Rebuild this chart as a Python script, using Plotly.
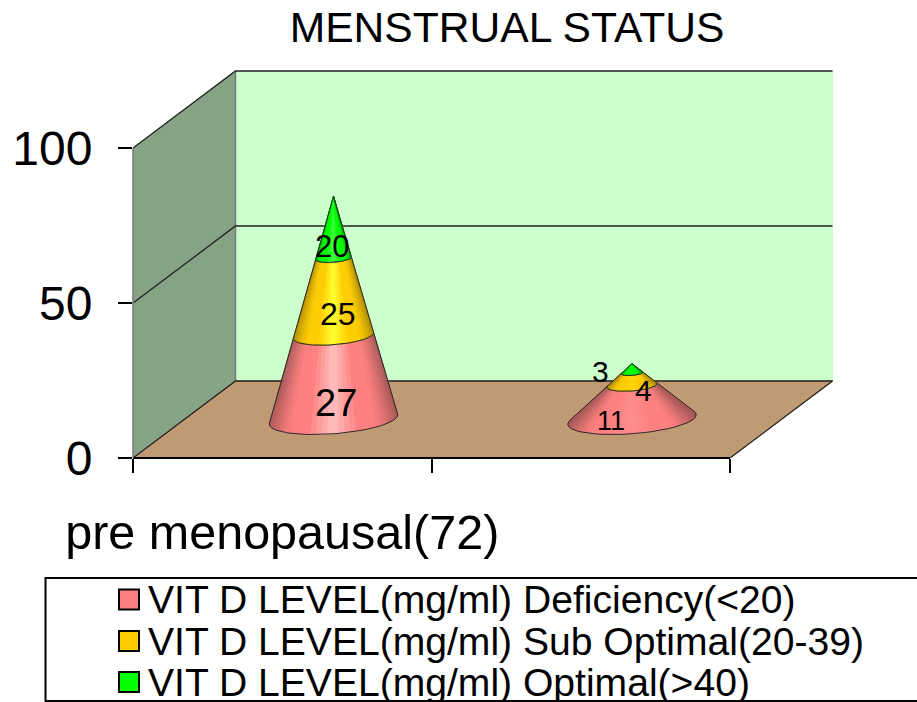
import numpy as np
import plotly.graph_objects as go

# ---- data ----
title_text = "MENSTRUAL STATUS"
categories = ["pre menopausal(72)", ""]
series_names = [
    "VIT D LEVEL(mg/ml) Deficiency(<20)",
    "VIT D LEVEL(mg/ml) Sub Optimal(20-39)",
    "VIT D LEVEL(mg/ml) Optimal(>40)",
]
deficiency = [27, 11]
sub_optimal = [25, 4]
optimal = [20, 3]
y_ticks = [0, 50, 100]

# ---- style ----
FONT = "Liberation Sans"
W, H = 917, 702
L, R, T, B = 133, 730, 148, 458   # front plane in window pixels
PLOT_R, PLOT_T = 836, 68          # plot area also holds the depth of the box
PX_X = (R - L) / 2
PX_Y = (B - T) / 100
DEPTH_X = 102.5 / PX_X
DEPTH_Y = 77 / PX_Y
BASE_R = 61 / PX_X
BASE_Q = 0.195
N_STRIP = 36
BASES = ["#FF8080", "#FFCC00", "#00FF00"]
HIGHS = ["#FFC0C0", "#FFFF30", "#40FF40"]
DARKS = ["#A85858", "#B08C00", "#00A800"]
HIGH_AMOUNT = [1.0, 0.2]      # per cone
LABEL_SHIFT = [  # px offsets from band centre: (dx, dy), per series then cone
    [(2, 25), (-21, 19)],
    [(4, 17), (11, 11)],
    [(-2, 19), (-32, 3)],
]
LABEL_SIZE = [[38, 27], [32, 30], [31, 30]]

# window pixels -> paper (plot area) fractions
px = lambda x: (x - L) / (PLOT_R - L)
py = lambda y: (B - y) / (B - PLOT_T)


def rgb(h):
    return np.array([int(h[i:i + 2], 16) for i in (1, 3, 5)], float)


def mix(a, b, f):
    c = rgb(a) * (1 - f) + rgb(b) * f
    return "rgb(%d,%d,%d)" % tuple(c.round())


fig = go.Figure()


def poly(xs, ys, fill=None, line=None, width=1, dash=None):
    fig.add_trace(go.Scatter(
        x=list(xs), y=list(ys), mode="lines", showlegend=False, hoverinfo="skip",
        cliponaxis=False,
        fill="toself" if fill else None, fillcolor=fill,
        line=dict(color=line or fill, width=width if (line or fill) else 0, dash=dash),
    ))


X0, X1, Y0, Y1 = 0, len(categories), y_ticks[0], y_ticks[-1]

# walls and floor
poly([X0, X0 + DEPTH_X, X0 + DEPTH_X, X0, X0],
     [Y0, Y0 + DEPTH_Y, Y1 + DEPTH_Y, Y1, Y0], fill="#86A386")
poly([X0 + DEPTH_X, X1 + DEPTH_X, X1 + DEPTH_X, X0 + DEPTH_X, X0 + DEPTH_X],
     [Y0 + DEPTH_Y, Y0 + DEPTH_Y, Y1 + DEPTH_Y, Y1 + DEPTH_Y, Y0 + DEPTH_Y], fill="#CCFFCC")
poly([X0, X1, X1 + DEPTH_X, X0 + DEPTH_X, X0],
     [Y0, Y0, Y0 + DEPTH_Y, Y0 + DEPTH_Y, Y0], fill="#C09A72")
# wall edges and gridlines
poly([X0 + DEPTH_X, X0 + DEPTH_X], [Y0 + DEPTH_Y, Y1 + DEPTH_Y], line="#7A7A7A", width=1.5)
for v in y_ticks:
    poly([X0, X0 + DEPTH_X, X1 + DEPTH_X], [v, v + DEPTH_Y, v + DEPTH_Y],
         line="#222222", width=1.3)
poly([X1, X1 + DEPTH_X], [Y0, Y0 + DEPTH_Y], line="#222222", width=1.3)

# cones
stack = [deficiency, sub_optimal, optimal]
annotations = []
for c in range(len(categories)):
    total = sum(s[c] for s in stack)
    cx = c + 0.5 + DEPTH_X / 2
    cy = DEPTH_Y / 2
    # silhouette of the cone, found in pixel space
    scan = np.linspace(-np.pi / 2 - 2.2, -np.pi / 2 + 2.2, 3000)
    ex = (BASE_R * np.cos(scan) + BASE_Q * DEPTH_X * np.sin(scan)) * PX_X
    ey = BASE_Q * DEPTH_Y * np.sin(scan) * PX_Y
    ang = np.arctan2(ex, total * PX_Y - ey)
    tL, tR = scan[np.argmin(ang)], scan[np.argmax(ang)]
    ts = np.linspace(tL, tR, N_STRIP + 1)

    def ring(v, t):
        k = 1 - v / total
        return (cx + k * (BASE_R * np.cos(t) + BASE_Q * DEPTH_X * np.sin(t)),
                cy + v + k * BASE_Q * DEPTH_Y * np.sin(t))

    xmid = np.cos(ts) * BASE_R + BASE_Q * DEPTH_X * np.sin(ts)
    xmax = np.abs(xmid).max()
    lo = 0
    for s, vals in enumerate(stack):
        hi = lo + vals[c]
        for i in range(N_STRIP):
            u = abs(xmid[i] + xmid[i + 1]) / 2 / xmax
            if u < 0.4:
                col = mix(BASES[s], HIGHS[s], (1 - u / 0.4) * HIGH_AMOUNT[c])
            elif u > 0.6:
                col = mix(BASES[s], DARKS[s], ((u - 0.6) / 0.4) ** 1.6)
            else:
                col = mix(BASES[s], BASES[s], 0)
            ax, ay = ring(lo, ts[i])
            bx, by = ring(lo, ts[i + 1])
            dx_, dy_ = ring(hi, ts[i + 1])
            ex_, ey_ = ring(hi, ts[i])
            poly([ax, bx, dx_, ex_, ax], [ay, by, dy_, ey_, ay], fill=col, width=0.6)
        # outline of the band
        bx, by = ring(lo, ts)
        tx, ty = ring(hi, ts[::-1])
        poly(list(bx) + list(tx) + [bx[0]], list(by) + list(ty) + [by[0]],
             line="#2A2A2A", width=1)
        # value label
        shift = LABEL_SHIFT[s][c]
        annotations.append(dict(
            x=cx, y=cy + (lo + hi) / 2, xref="x", yref="y", text=str(vals[c]),
            showarrow=False, xshift=shift[0], yshift=-shift[1],
            font=dict(family=FONT, size=LABEL_SIZE[s][c], color="black"),
        ))
        lo = hi

# axis lines of the front plane, and the legend box
shapes = [
    dict(type="line", xref="x", yref="paper", layer="above", x0=X0, x1=X1, y0=0, y1=0,
         line=dict(color="black", width=2)),
    dict(type="line", xref="paper", yref="y", layer="above", x0=0, x1=0, y0=Y0, y1=Y1,
         line=dict(color="#7A7A7A", width=1.5)),
    dict(type="rect", xref="paper", yref="paper", layer="above",
         x0=px(45.5), x1=px(960), y0=py(578), y1=py(701),
         line=dict(color="black", width=2), fillcolor="white"),
]
row_y = [599.5, 641, 682]
for name, col, y in zip(series_names, BASES, row_y):
    shapes.append(dict(type="rect", xref="paper", yref="paper", layer="above",
                       x0=px(119), x1=px(139), y0=py(y - 10), y1=py(y + 10),
                       line=dict(color="black", width=2), fillcolor=col))
    annotations.append(dict(
        x=px(146), y=py(y), xref="paper", yref="paper", xanchor="left", yanchor="middle",
        text=name, showarrow=False, font=dict(family=FONT, size=39.1, color="black"),
    ))

fig.update_layout(
    width=W, height=H, autosize=False,
    margin=dict(l=L, r=W - PLOT_R, t=PLOT_T, b=H - B, pad=0),
    paper_bgcolor="white", plot_bgcolor="rgba(0,0,0,0)",
    font=dict(family=FONT, color="black"),
    showlegend=False,
    title=dict(text=title_text, x=507 / W, y=1 - 27 / H,
               xanchor="center", yanchor="middle", automargin=False,
               xref="container", yref="container",
               font=dict(family=FONT, size=42.6, color="black")),
    shapes=shapes, annotations=annotations,
    xaxis=dict(range=[X0, (PLOT_R - L) / PX_X], showgrid=False, zeroline=False,
               showline=False, automargin=False,
               tickmode="array", tickvals=[i + 0.5 for i in range(len(categories))],
               ticktext=categories, ticks="", ticklabelstandoff=41,
               tickfont=dict(family=FONT, size=48.5, color="black"),
               minor=dict(tickmode="array", tickvals=list(range(len(categories) + 1)),
                          ticks="outside", ticklen=14, tickwidth=2, tickcolor="black",
                          showgrid=False)),
    yaxis=dict(range=[Y0, (B - PLOT_T) / PX_Y], showgrid=False, zeroline=False,
               showline=False, automargin=False,
               tickmode="array", tickvals=y_ticks, ticks="outside", ticklen=14,
               tickwidth=2, tickcolor="black", ticklabelstandoff=16,
               tickfont=dict(family=FONT, size=48, color="black")),
)

# the page's default 8 px body margin is removed so the figure fills the window
fig.write_html("out.html", config={"displayModeBar": False},
               post_script="document.body.style.margin='0';")
